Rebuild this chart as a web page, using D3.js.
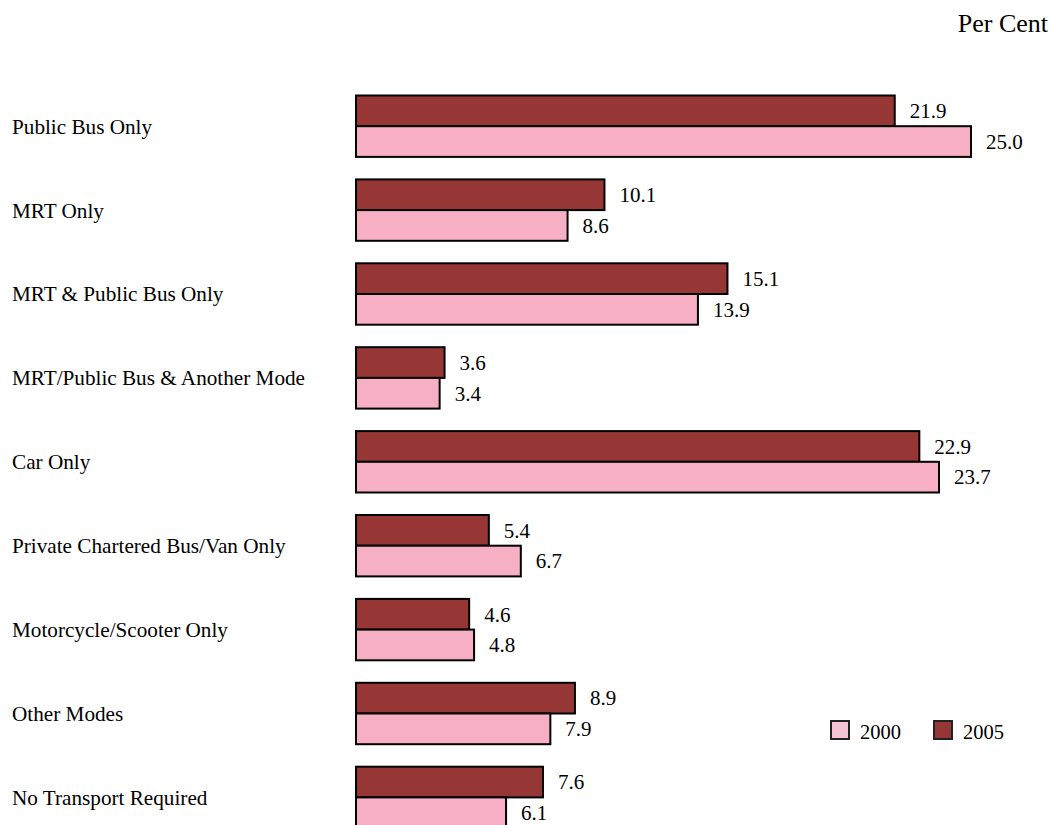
<!DOCTYPE html>
<html>
<head>
<meta charset="utf-8">
<script src="https://cdn.jsdelivr.net/npm/d3@7"></script>
<style>
  body { margin: 0; background: #fff; }
  text { font-family: "Liberation Serif", "Times New Roman", serif; fill: #000; }
</style>
</head>
<body>
<div id="chart"></div>
<script>
const categories = [
    "Public Bus Only",
    "MRT Only",
    "MRT & Public Bus Only",
    "MRT/Public Bus & Another Mode",
    "Car Only",
    "Private Chartered Bus/Van Only",
    "Motorcycle/Scooter Only",
    "Other Modes",
    "No Transport Required"
];
const values2005 = [21.9, 10.1, 15.1, 3.6, 22.9, 5.4, 4.6, 8.9, 7.6];
const values2000 = [25.0, 8.6, 13.9, 3.4, 23.7, 6.7, 4.8, 7.9, 6.1];
const years = ["2005", "2000"];

const width = 1054, height = 825;
const colors = { "2005": "#963736", "2000": "#f7afc3" };

const svg = d3.select("#chart").append("svg")
    .attr("width", width)
    .attr("height", height);

const x = d3.scaleLinear().domain([0, 25]).range([356, 971]);

const step = 83.9, pad = 22.5 / 83.9;
const y = d3.scaleBand()
    .domain(categories)
    .range([95.5, 95.5 + step * (categories.length - pad)])
    .paddingInner(pad)
    .paddingOuter(0);

const ySub = d3.scaleBand().domain(years).range([0, y.bandwidth()]);

const rows = categories.map((c, i) => ({
    cat: c,
    vals: [{ year: "2005", v: values2005[i] }, { year: "2000", v: values2000[i] }]
}));

const group = svg.selectAll("g.row")
    .data(rows)
  .enter().append("g")
    .attr("class", "row")
    .attr("transform", d => `translate(0,${y(d.cat)})`);

group.append("text")
    .attr("x", 12)
    .attr("y", y.bandwidth() / 2)
    .attr("dy", "0.35em")
    .style("font-size", "21.2px")
    .text(d => d.cat);

group.selectAll("rect")
    .data(d => d.vals)
  .enter().append("rect")
    .attr("x", x(0))
    .attr("y", d => ySub(d.year))
    .attr("width", d => x(d.v) - x(0))
    .attr("height", ySub.bandwidth())
    .attr("fill", d => colors[d.year])
    .attr("stroke", "#000")
    .attr("stroke-width", 2);

group.selectAll("text.val")
    .data(d => d.vals)
  .enter().append("text")
    .attr("class", "val")
    .attr("x", d => x(d.v) + 15)
    .attr("y", d => ySub(d.year) + ySub.bandwidth() / 2)
    .attr("dy", "0.35em")
    .style("font-size", "21px")
    .text(d => d.v.toFixed(1));

svg.append("text")
    .attr("x", 1048)
    .attr("y", 32)
    .attr("text-anchor", "end")
    .style("font-size", "26px")
    .text("Per Cent");

// legend
const legend = [
    { label: "2000", fill: "#f5c3d8", x: 830 },
    { label: "2005", fill: "#963736", x: 933 }
];
const lg = svg.selectAll("g.legend")
    .data(legend)
  .enter().append("g")
    .attr("class", "legend")
    .attr("transform", d => `translate(${d.x},720)`);

lg.append("rect")
    .attr("x", 1).attr("y", 1)
    .attr("width", 18).attr("height", 18)
    .attr("fill", d => d.fill)
    .attr("stroke", "#222")
    .attr("stroke-width", 2);

lg.append("text")
    .attr("x", 30)
    .attr("y", 19)
    .style("font-size", "20.5px")
    .text(d => d.label);
</script>
</body>
</html>
